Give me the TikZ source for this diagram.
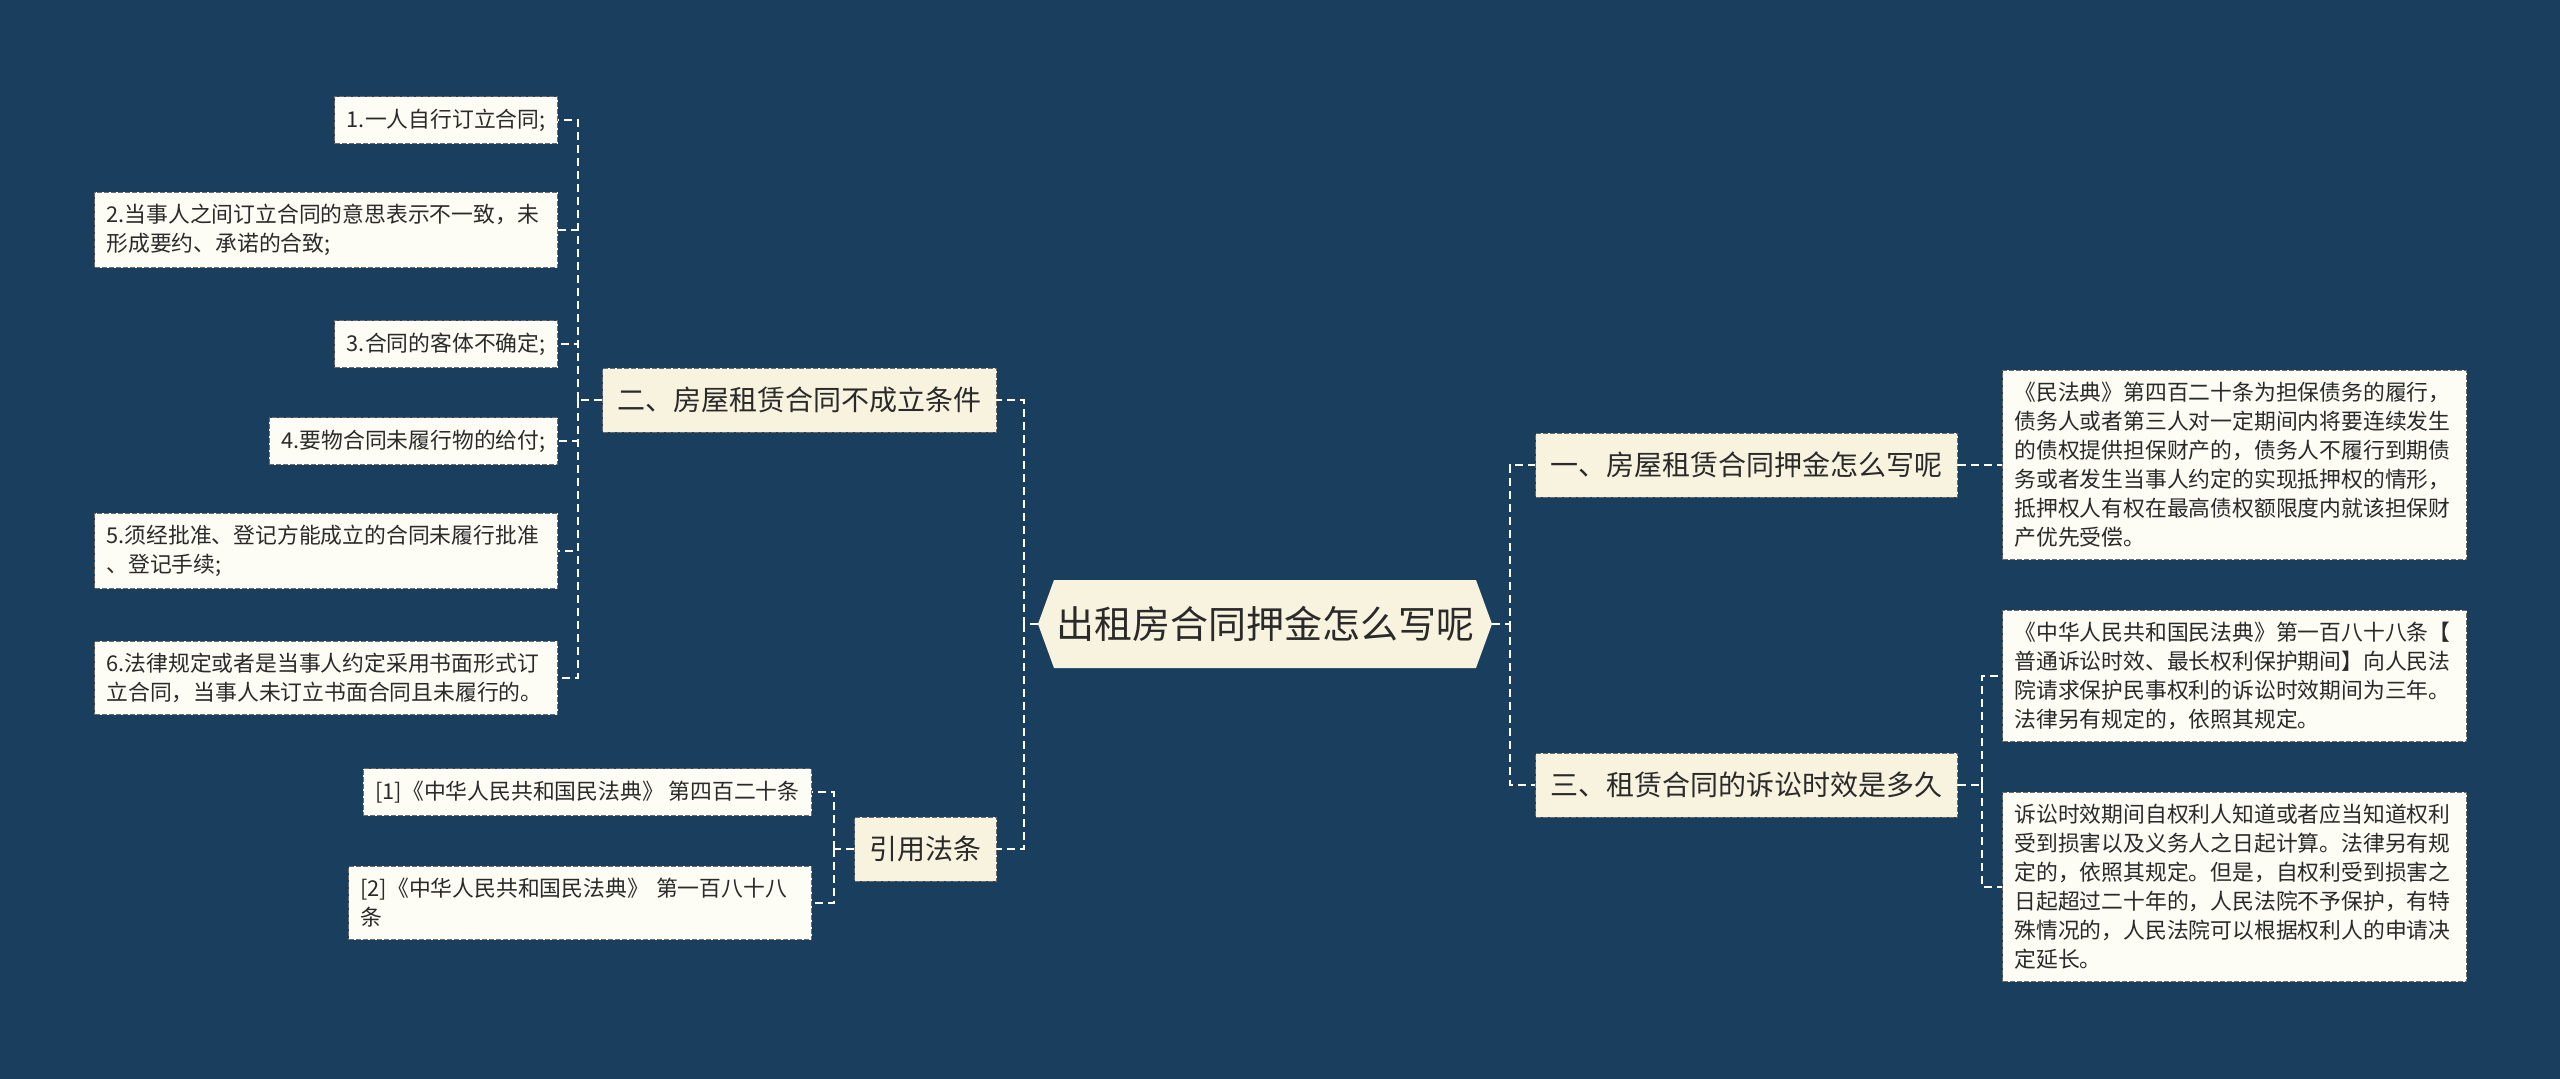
\documentclass[tikz,border=0pt]{standalone}
\usepackage{fontspec}
\setmainfont{Noto Sans CJK SC}
\usetikzlibrary{calc}
\definecolor{bgc}{HTML}{1A3E5E}
\definecolor{cream}{HTML}{F8F3DF}
\definecolor{leafc}{HTML}{FDFDF6}
\definecolor{txt}{HTML}{2A2A2A}
\definecolor{bord}{HTML}{6A6A6A}
\begin{document}
\begin{tikzpicture}[x=1pt,y=-1pt,
  conn/.style={draw=white, line width=2.2pt, dash pattern=on 8pt off 5pt},
  lvl/.style={fill=cream, draw=bord, line width=1pt, dash pattern=on 5pt off 2pt,
    font=\fontsize{28}{34}\selectfont, text=txt, inner xsep=15pt, minimum height=64pt},
  lf/.style={fill=leafc, draw=bord, line width=1pt, dash pattern=on 5pt off 2pt,
    font=\fontsize{21.8}{29}\selectfont, text=txt, inner xsep=12pt, inner ysep=12pt,
    align=left, minimum height=47pt},
]
\fill[bgc] (0,0) rectangle (2560,1079);
\useasboundingbox (0,0) rectangle (2560,1079);

% central
\coordinate (cc) at (1265,624);
\fill[cream] ($(cc)+(-227,0)$) -- ($(cc)+(-211,-44)$) -- ($(cc)+(211,-44)$) -- ($(cc)+(227,0)$) -- ($(cc)+(211,44)$) -- ($(cc)+(-211,44)$) -- cycle;
\node[minimum width=454pt, minimum height=88pt, inner sep=0pt, font=\fontsize{38}{42}\selectfont, text=txt] (c) at (cc) {出租房合同押金怎么写呢};

% level 1
\node[lvl, anchor=east] (b2) at (997,400) {二、房屋租赁合同不成立条件};
\node[lvl, anchor=east] (b4) at (997,849) {引用法条};
\node[lvl, anchor=west] (b1) at (1535,465) {一、房屋租赁合同押金怎么写呢};
\node[lvl, anchor=west] (b3) at (1535,785) {三、租赁合同的诉讼时效是多久};

% left leaves
\node[lf, anchor=east] (l1) at (558,120) {1.一人自行订立合同;};
\node[lf, anchor=east, text width=439pt] (l2) at (558,230) {2.当事人之间订立合同的意思表示不一致，未\\形成要约、承诺的合致;};
\node[lf, anchor=east] (l3) at (558,344) {3.合同的客体不确定;};
\node[lf, anchor=east] (l4) at (558,441) {4.要物合同未履行物的给付;};
\node[lf, anchor=east, text width=439pt] (l5) at (558,551) {5.须经批准、登记方能成立的合同未履行批准\\、登记手续;};
\node[lf, anchor=east, text width=439pt] (l6) at (558,678) {6.法律规定或者是当事人约定采用书面形式订\\立合同，当事人未订立书面合同且未履行的。};

% citations
\node[lf, anchor=east] (q1) at (812,792) {[1]《中华人民共和国民法典》 第四百二十条};
\node[lf, anchor=east, text width=439pt] (q2) at (812,903) {[2]《中华人民共和国民法典》 第一百八十八\\条};

% right leaves
\node[lf, anchor=west, text width=440pt] (r1) at (2002,465) {《民法典》第四百二十条为担保债务的履行，\\债务人或者第三人对一定期间内将要连续发生\\的债权提供担保财产的，债务人不履行到期债\\务或者发生当事人约定的实现抵押权的情形，\\抵押权人有权在最高债权额限度内就该担保财\\产优先受偿。};
\node[lf, anchor=west, text width=440pt] (r2) at (2002,676) {《中华人民共和国民法典》第一百八十八条【\\普通诉讼时效、最长权利保护期间】向人民法\\院请求保护民事权利的诉讼时效期间为三年。\\法律另有规定的，依照其规定。};
\node[lf, anchor=west, text width=440pt] (r3) at (2002,887) {诉讼时效期间自权利人知道或者应当知道权利\\受到损害以及义务人之日起计算。法律另有规\\定的，依照其规定。但是，自权利受到损害之\\日起超过二十年的，人民法院不予保护，有特\\殊情况的，人民法院可以根据权利人的申请决\\定延长。};

% junctions
\coordinate (jl) at (1024,624);
\coordinate (jr) at (1510,624);
\coordinate (j2) at (578,400);
\coordinate (j4) at (834,849);
\coordinate (j3) at (1982,785);

% connectors
\draw[conn] (c.west) -- (jl) |- (b2.east);
\draw[conn] (jl) |- (b4.east);
\draw[conn] (c.east) -- (jr) |- (b1.west);
\draw[conn] (jr) |- (b3.west);

\draw[conn] (b2.west) -- (j2);
\foreach \n in {l1,l2,l3,l4,l5,l6} \draw[conn] (j2) |- (\n.east);

\draw[conn] (b4.west) -- (j4);
\foreach \n in {q1,q2} \draw[conn] (j4) |- (\n.east);

\draw[conn] (b1.east) -- (r1.west);
\draw[conn] (b3.east) -- (j3);
\foreach \n in {r2,r3} \draw[conn] (j3) |- (\n.west);
\end{tikzpicture}
\end{document}
